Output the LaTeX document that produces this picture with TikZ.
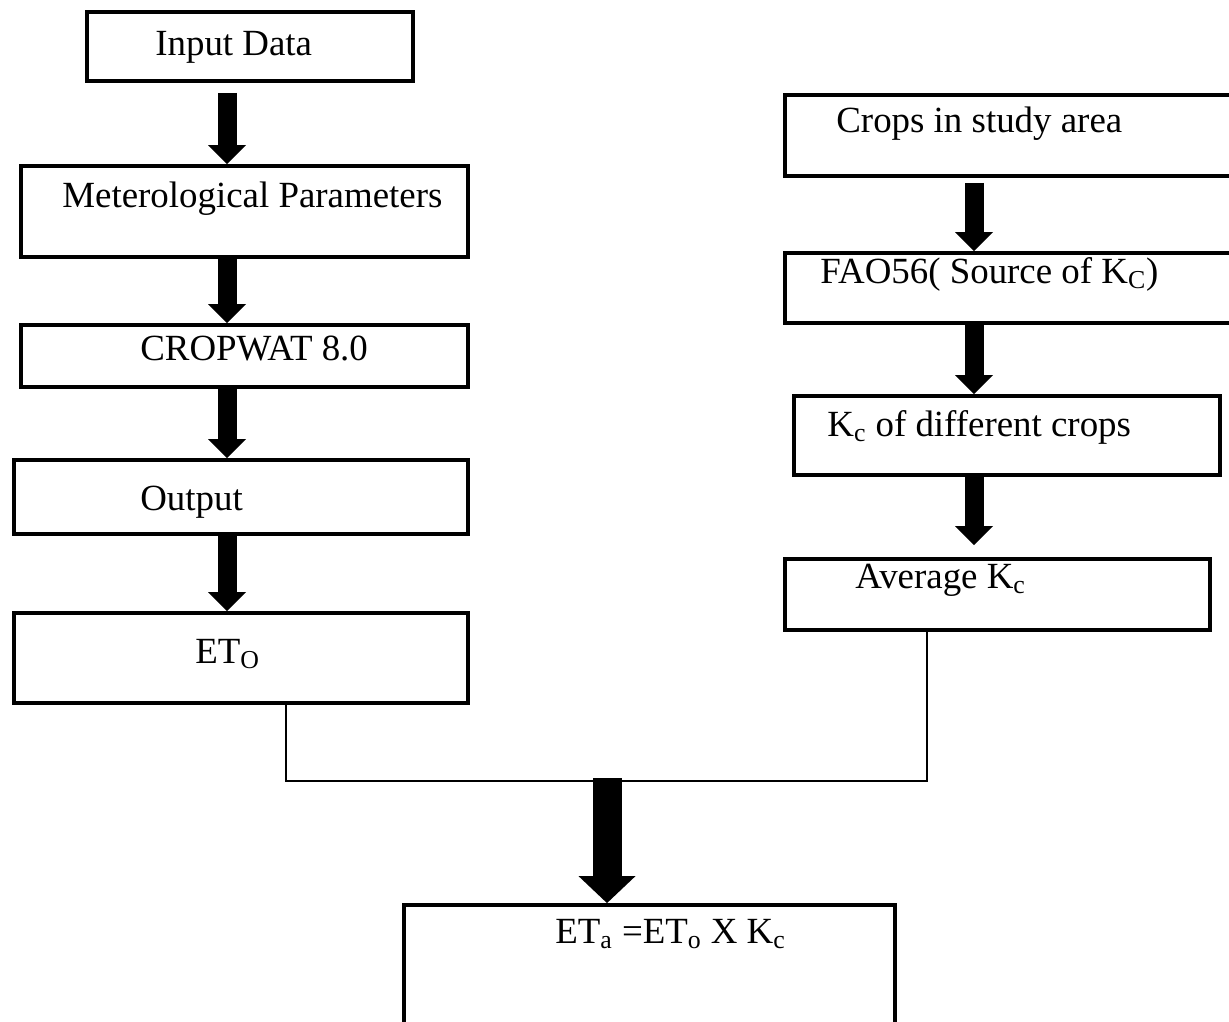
\documentclass[tikz,border=0pt]{standalone}
\usepackage{fontspec}
\setmainfont{Liberation Serif}
\usetikzlibrary{arrows.meta,calc}

\tikzset{
  flowbox/.style={draw, line width=2.2pt, inner sep=0pt},
  boxtext/.style={anchor=base west, inner sep=0pt, font=\fontsize{21}{25}\selectfont},
  blockarrow/.style={line width=0.38cm, -{Triangle[width=0.76cm,length=0.38cm,line width=0pt]}},
  bigarrow/.style={line width=0.58cm, -{Triangle[width=1.14cm,length=0.54cm,line width=0pt]}},
  joinline/.style={line width=0.9pt}
}

\begin{document}
\begin{tikzpicture}[x=0.02cm, y=-0.02cm]
        \useasboundingbox (0,0) rectangle (1229,1021);
        \clip (0,0) rectangle (1229,1021);
        % left column
        \node[flowbox, minimum width=6.52cm, minimum height=1.38cm] (inp) at (250,46.5) {};
        \node[flowbox, minimum width=8.94cm, minimum height=1.82cm] (met) at (244.5,211.5) {};
        \node[flowbox, minimum width=8.94cm, minimum height=1.24cm] (crw) at (244.5,356) {};
        \node[flowbox, minimum width=9.08cm, minimum height=1.48cm] (out) at (241,497) {};
        \node[flowbox, minimum width=9.08cm, minimum height=1.80cm] (eto) at (241,658) {};
        \node[boxtext] at (155,55) {Input Data};
        \node[boxtext] at (62,207) {Meterological Parameters};
        \node[boxtext] at (140,360) {CROPWAT 8.0};
        \node[boxtext] at (140,510) {Output};
        \node[boxtext] at (195,663) {ET\textsubscript{O}};
        % right column
        \node[flowbox, minimum width=9.50cm, minimum height=1.62cm] (crp) at (1022.5,135.5) {};
        \node[flowbox, minimum width=9.50cm, minimum height=1.40cm] (fao) at (1022.5,288) {};
        \node[flowbox, minimum width=8.52cm, minimum height=1.58cm] (kcd) at (1007,435.5) {};
        \node[flowbox, minimum width=8.50cm, minimum height=1.42cm] (avg) at (997.5,594.5) {};
        \node[boxtext] at (836,132) {Crops in study area};
        \node[boxtext] at (820,283) {FAO56( Source of K\textsubscript{C})};
        \node[boxtext] at (827,436) {K\textsubscript{c} of different crops};
        \node[boxtext] at (855,588) {Average K\textsubscript{c}};
        % result
        \node[flowbox, minimum width=9.82cm, minimum height=3.06cm] (res) at (649.5,981.5) {};
        \node[boxtext] at (555,943) {ET\textsubscript{a} =ET\textsubscript{o} X K\textsubscript{c}};

        \coordinate (lcol) at (227,0);
        \coordinate (rcol) at (974,0);
        \coordinate (jl) at (286,781);
        \coordinate (jr) at (927,781);
        \coordinate (jm) at (607,778);

        \draw[blockarrow, shorten <=0.2cm] (inp.south -| lcol) -- (met.north -| lcol);
        \draw[blockarrow] (met.south -| lcol) -- (crw.north -| lcol);
        \draw[blockarrow] (crw.south -| lcol) -- (out.north -| lcol);
        \draw[blockarrow] (out.south -| lcol) -- (eto.north -| lcol);
        \draw[blockarrow, shorten <=0.1cm] (crp.south -| rcol) -- (fao.north -| rcol);
        \draw[blockarrow] (fao.south -| rcol) -- (kcd.north -| rcol);
        \draw[blockarrow, shorten >=0.24cm] (kcd.south -| rcol) -- (avg.north -| rcol);

        \draw[joinline] (eto.south -| jl) -- (jl) -- (jr) -- (avg.south -| jr);
        \draw[bigarrow] (jm) -- (res.north -| jm);
    \end{tikzpicture}
\end{document}
